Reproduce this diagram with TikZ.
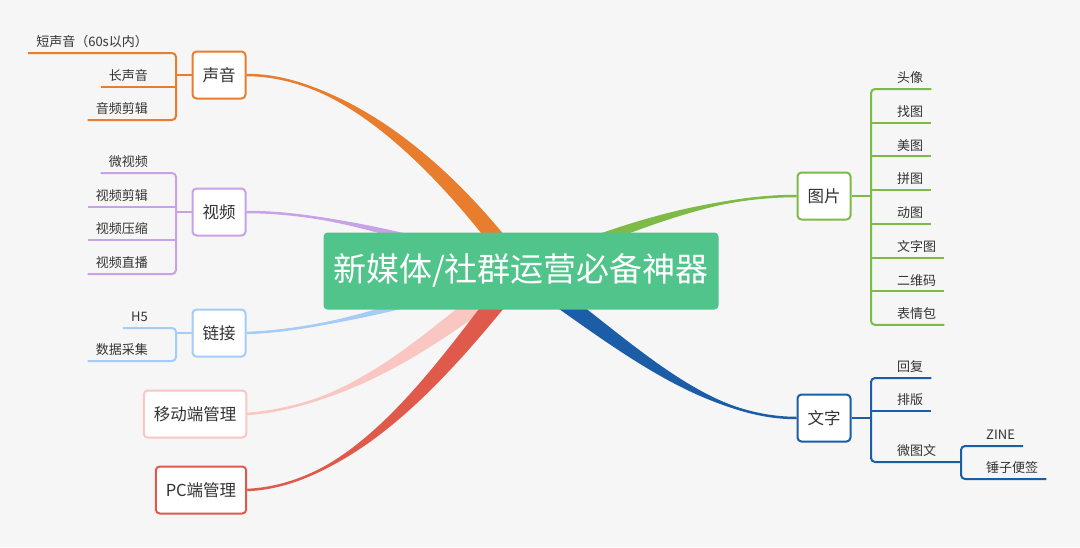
\documentclass[tikz,border=0pt]{standalone}
\usepackage{fontspec}
\setmainfont{Noto Sans CJK SC}
\usetikzlibrary{calc}
\definecolor{bgc}{HTML}{F6F6F6}
\definecolor{txt}{HTML}{333333}
\definecolor{cRoot}{HTML}{50C48B}
\definecolor{cOrange}{HTML}{E87D2E}
\definecolor{cLilac}{HTML}{C8A2E6}
\definecolor{cSky}{HTML}{A4CCF5}
\definecolor{cPink}{HTML}{F9C6C2}
\definecolor{cRed}{HTML}{E05A4B}
\definecolor{cLeaf}{HTML}{7DBB46}
\definecolor{cNavy}{HTML}{1C5DA8}
\pgfdeclarelayer{bg}
\pgfsetlayers{bg,main}
\begin{document}
\begin{tikzpicture}[x=1pt, y=-1pt,
  root/.style={fill=cRoot, rounded corners=4pt, minimum width=395pt, minimum height=77pt, text=white, font=\fontsize{33}{40}\selectfont},
  topic/.style={draw, line width=2pt, fill=white, rounded corners=4pt, minimum height=47pt, inner xsep=10pt, text=txt, font=\fontsize{16.5}{19}\selectfont},
  sub/.style={inner xsep=8pt, inner ysep=3pt, text height=10pt, text depth=3pt, text=txt, font=\fontsize{13}{15}\selectfont},
  twig/.style={line width=2pt, rounded corners=4pt}
]
\useasboundingbox (0,0) rectangle (1080,547);
% 中心主题与一级主题
\node[root] (main) at (521,271) {新媒体/社群运营必备神器};
\coordinate (hub) at (521,271);
\node[topic, draw=cOrange] (snd) at (219,75) {声音};
\node[topic, draw=cLilac] (vid) at (219,212) {视频};
\node[topic, draw=cSky] (lnk) at (219,333) {链接};
\node[topic, draw=cPink] (mob) at (195,414) {移动端管理};
\node[topic, draw=cRed] (pc) at (201,490) {PC端管理};
\node[topic, draw=cLeaf] (pic) at (824,196) {图片};
\node[topic, draw=cNavy] (wrd) at (824,418) {文字};
% 粗分支:两条共控制点的曲线围成渐宽的带
\begin{pgfonlayer}{bg}
\fill[bgc] (0,0) rectangle (1080,547);
\foreach \nd/\an/\col/\ca/\cb/\ox/\oy in {
  snd/east/cOrange/{340,75}/{440,160}/7/-5,
  vid/east/cLilac/{330,212}/{420,240}/1.5/-5,
  lnk/east/cSky/{330,330}/{420,300}/1.5/5,
  mob/east/cPink/{360,405}/{440,330}/6/8,
  pc/east/cRed/{360,485}/{450,360}/8/6,
  pic/west/cLeaf/{720,196}/{640,220}/2.5/5.5,
  wrd/west/cNavy/{700,418}/{620,340}/5/-7.5}
{
  \fill[\col] (\nd.\an) .. controls (\ca) and ($(\cb)+(\ox,\oy)$) .. ($(hub)+(\ox,\oy)$)
    -- ($(hub)-(\ox,\oy)$) .. controls ($(\cb)-(\ox,\oy)$) and (\ca) .. (\nd.\an) -- cycle;
  \draw[\col, line width=2.5pt] (\nd.\an) .. controls (\ca) and (\cb) .. (hub);
}
\end{pgfonlayer}
% 声音
\coordinate (sndK) at (176,75);
\node[sub, anchor=south east] (snd1) at (156,53) {短声音（60s以内）};
\node[sub, anchor=south east] (snd2) at (156,87) {长声音};
\node[sub, anchor=south east] (snd3) at (156,120) {音频剪辑};
\draw[twig, cOrange] (snd1.south west) -- (snd1.south -| sndK) -- (snd3.south -| sndK) -- (snd3.south west);
\draw[twig, cOrange] (snd2.south west) -- (snd2.south -| sndK);
\draw[twig, cOrange] (snd.west) -- (sndK);
% 视频
\coordinate (vidK) at (176,212);
\node[sub, anchor=south east] (vid1) at (156,173) {微视频};
\node[sub, anchor=south east] (vid2) at (156,207) {视频剪辑};
\node[sub, anchor=south east] (vid3) at (156,240) {视频压缩};
\node[sub, anchor=south east] (vid4) at (156,274) {视频直播};
\draw[twig, cLilac] (vid1.south west) -- (vid1.south -| vidK) -- (vid4.south -| vidK) -- (vid4.south west);
\foreach \i in {2,3} \draw[twig, cLilac] (vid\i.south west) -- (vid\i.south -| vidK);
\draw[twig, cLilac] (vid.west) -- (vidK);
% 链接
\coordinate (lnkK) at (176,333);
\node[sub, anchor=south east] (lnk1) at (156,328) {H5};
\node[sub, anchor=south east] (lnk2) at (156,361) {数据采集};
\draw[twig, cSky] (lnk1.south west) -- (lnk1.south -| lnkK) -- (lnk2.south -| lnkK) -- (lnk2.south west);
\draw[twig, cSky] (lnk.west) -- (lnkK);
% 图片
\coordinate (picK) at (871,196);
\foreach \t [count=\i] in {头像,找图,美图,拼图,动图,文字图,二维码,表情包}
  \node[sub, anchor=south west] (pic\i) at (889,{89+33.7*(\i-1)}) {\t};
\draw[twig, cLeaf] (pic1.south east) -- (pic1.south -| picK) -- (pic8.south -| picK) -- (pic8.south east);
\foreach \i in {2,...,7} \draw[twig, cLeaf] (pic\i.south -| picK) -- (pic\i.south east);
\draw[twig, cLeaf] (pic.east) -- (picK);
% 文字
\coordinate (wrdK) at (871,418);
\coordinate (micK) at (961,462);
\node[sub, anchor=south west] (wrd1) at (889,378) {回复};
\node[sub, anchor=south west] (wrd2) at (889,411) {排版};
\node[sub, anchor=south west] (wrd3) at (889,462) {微图文};
\node[sub, anchor=south west] (mic1) at (978,446) {ZINE};
\node[sub, anchor=south west] (mic2) at (978,479) {锤子便签};
\draw[twig, cNavy] (wrd1.south east) -- (wrd1.south -| wrdK) -- (wrd3.south -| wrdK) -- (micK);
\draw[twig, cNavy] (wrd2.south -| wrdK) -- (wrd2.south east);
\draw[twig, cNavy] (mic1.south east) -- (mic1.south -| micK) -- (mic2.south -| micK) -- (mic2.south east);
\draw[twig, cNavy] (wrd.east) -- (wrdK);
\end{tikzpicture}
\end{document}
